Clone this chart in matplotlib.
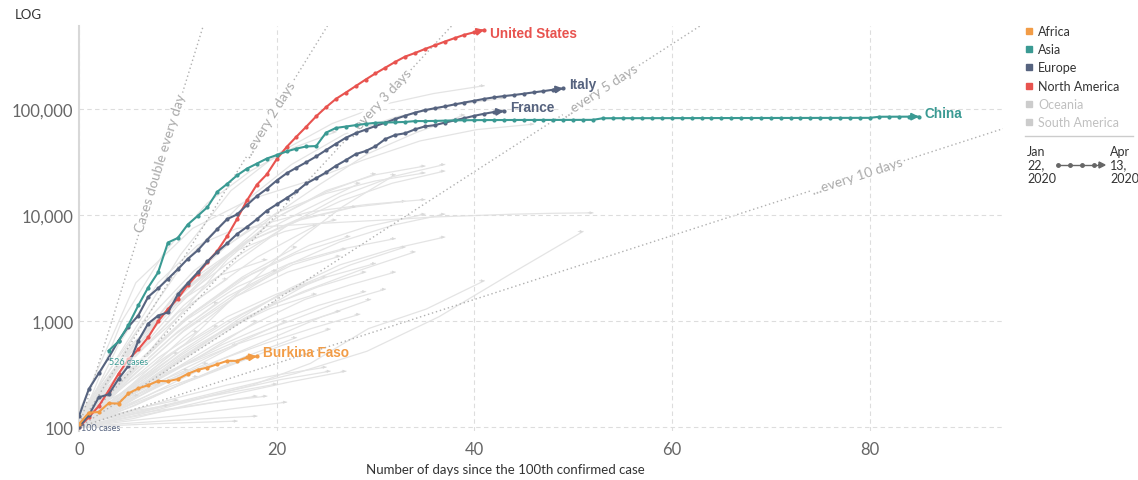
import numpy as np
import matplotlib
matplotlib.use('Agg')
import matplotlib.pyplot as plt
from matplotlib.patches import Rectangle, FancyArrow
from matplotlib.lines import Line2D
from matplotlib.ticker import NullLocator

plt.rcParams['font.family'] = ['Lato', 'DejaVu Sans']

# cumulative confirmed cases, one value per day since the 100th case
us_cases = [100, 124, 158, 221, 319, 435, 541, 704, 994, 1301, 1630, 2183, 2770, 3613,
             4596, 6344, 9197, 13779, 19367, 24192, 33592, 43781, 54856, 68211, 85435,
             104126, 124665, 143025, 164620, 189618, 216721, 245573, 278458, 312237,
             337635, 368196, 398809, 432132, 466299, 501560, 529951, 557571]
italy_cases = [127, 229, 322, 453, 655, 888, 1128, 1694, 2036, 2502, 3089, 3858, 4636,
               5883, 7375, 9172, 10149, 12462, 15113, 17660, 21157, 24747, 27980, 31506,
               35713, 41035, 47021, 53578, 59138, 63927, 69176, 74386, 80589, 86498, 92472,
               97689, 101739, 105792, 110574, 115242, 119827, 124632, 128948, 132547,
               135586, 139422, 143626, 147577, 152271, 156363]
france_cases = [100, 130, 191, 204, 285, 377, 653, 949, 1126, 1209, 1784, 2281, 2876,
                3661, 4499, 5423, 6633, 7730, 9134, 10995, 12612, 14459, 16689, 19856,
                22304, 25233, 29155, 32964, 37575, 40174, 44550, 52128, 56989, 59105,
                64338, 68605, 70478, 74390, 78167, 82048, 86334, 90276, 93790, 95403]
burkina_cases = [107, 137, 139, 168, 167, 208, 232, 249, 273, 271, 284, 318, 347, 365,
                 393, 422, 422, 454, 465]
# China's series starts on Jan 22 with 526 cases, already 3 days past its 100th case
china_start = 3
china_cases = [526, 643, 920, 1406, 2075, 2877, 5509, 6087, 8141, 9802, 11891, 16630,
               19716, 23707, 27440, 30587, 34110, 36814, 39829, 42354, 44386, 44759,
               59895, 66358, 68413, 70513, 72434, 74211, 74619, 75077, 75550, 77001,
               77022, 77241, 77754, 78166, 78400, 78600, 78700, 78750, 78800, 78850,
               78900, 78900, 78950, 78950, 79000, 79000, 79050, 79100, 81900, 81950,
               82000, 82000, 82050, 82050, 82100, 82100, 82150, 82150, 82200, 82200,
               82250, 82250, 82300, 82300, 82350, 82350, 82400, 82400, 82450, 82450,
               82500, 82500, 82550, 82550, 82600, 82600, 84600, 84650, 84700, 84750,
               84800]

# every other country in grey: (last day, cases at evenly spaced days from 0 to last day)
other_countries = [
    (41, [120, 700, 4200, 17000, 40000, 73000, 110000, 140000, 166000]),
    (43, [130, 700, 3700, 12000, 30000, 58000, 85000, 108000, 127000]),
    (46, [140, 2300, 7500, 14000, 20600, 33000, 50000, 64000, 72000]),
    (39, [115, 460, 1400, 3900, 9600, 19500, 38000, 60000, 88000]),
    (26, [100, 1000, 4500, 13000, 26000, 43000, 61000]),
    (37, [100, 420, 1400, 3600, 8100, 15000, 23000, 30000]),
    (37, [120, 600, 1700, 4000, 8000, 13500, 20000, 26000]),
    (35, [100, 300, 1100, 3800, 9500, 17000, 24000, 29000]),
    (35, [110, 500, 1900, 5200, 10500, 16000, 21000, 25000]),
    (30, [100, 400, 1400, 4000, 9500, 16500, 24500]),
    (32, [100, 250, 600, 1800, 5000, 12000, 24000]),
    (28.4, [120, 620, 2200, 5800, 11000, 20000]),
    (33, [110, 600, 2300, 5300, 9000, 11800, 13500]),
    (35, [100, 800, 3000, 7700, 10700, 12600, 14000]),
    (35, [120, 400, 1200, 2800, 5200, 7800, 10200]),
    (37, [100, 250, 700, 1700, 3400, 5600, 8000, 10200]),
    (52, [104, 600, 2300, 5200, 7500, 7900, 8300, 8700, 9100, 9600, 9900, 10200, 10400, 10500]),
    (51, [105, 150, 220, 320, 520, 1100, 2800, 7000]),
    (41, [100, 130, 180, 250, 400, 850, 1300, 2400]),
    (37, [100, 200, 450, 1000, 2000, 3400, 4800, 6200]),
    (32, [100, 350, 1000, 2100, 3500, 4800, 6000]),
    (27.4, [100, 380, 1100, 2500, 4300, 6300]),
    (26.4, [100, 300, 800, 1700, 2900, 4100]),
    (34, [110, 250, 550, 1100, 1900, 3000, 4500]),
    (29, [100, 200, 420, 800, 1400, 2100, 2900]),
    (32, [100, 180, 330, 600, 1000, 1600, 2200, 2900]),
    (29, [100, 190, 350, 600, 950, 1400, 1900]),
    (31, [130, 230, 380, 620, 950, 1450, 2000]),
    (29.5, [100, 160, 270, 450, 700, 1100, 1600]),
    (28.4, [100, 170, 280, 430, 620, 860, 1160]),
    (26.4, [110, 220, 380, 600, 880, 1240]),
    (25.4, [100, 160, 250, 380, 580, 840]),
    (25.4, [100, 130, 170, 220, 280, 337]),
    (27, [100, 120, 160, 210, 270, 337]),
    (25, [105, 140, 190, 250, 310, 368]),
    (20, [100, 130, 170, 210, 255]),
    (18, [100, 120, 145, 170, 196]),
    (19, [110, 130, 150, 175, 196]),
    (21, [100, 115, 130, 150, 172]),
    (18, [100, 108, 115, 121, 127]),
    (16, [100, 104, 108, 111, 114]),
    (10, [100, 180, 300, 500]),
    (12, [100, 220, 450, 800]),
    (14, [100, 280, 700, 1500]),
    (15, [110, 400, 1200, 2500]),
    (12, [100, 150, 220, 300]),
    (8, [100, 150, 250]),
    (10, [100, 130, 155, 180]),
    (20, [100, 300, 800, 1700, 3000]),
    (22, [100, 350, 1100, 2600, 5000]),
    (24, [120, 500, 1600, 4000, 8000]),
    (18, [100, 220, 450, 1000]),
    (16, [100, 180, 330, 600]),
    (20, [100, 200, 420, 850, 1500]),
    (23, [100, 220, 500, 1100, 2200]),
    (22, [100, 160, 270, 450, 700]),
    (13, [100, 170, 270, 400]),
    (17, [100, 160, 280, 450]),
    (24, [100, 200, 400, 800, 1300, 1800]),
    (21, [100, 190, 350, 600, 1000]),
    (19, [130, 500, 1400, 2700, 3800]),
    (26, [110, 500, 1800, 4500, 7000, 9000]),
    (28, [100, 600, 2200, 5500, 9000, 12000]),
    (14, [100, 250, 500, 900]),
    (11, [100, 170, 250, 350]),
    (25, [100, 230, 550, 1100, 1800, 2600]),
    (27, [100, 300, 850, 1900, 3400, 4800]),
    (9, [100, 125, 145, 160]),
    (6, [100, 145, 200]),
    (30, [100, 220, 500, 1000, 1700, 2600, 3500]),
    (33, [100, 230, 550, 1150, 2100, 3400, 5000]),
]

doubling_days = [1, 2, 3, 5, 10]
doubling_labels = ['Cases double every day', '...every 2 days', '...every 3 days',
                   '...every 5 days', '...every 10 days']
doubling_label_day = [8.3, 19.3, 30.5, 52.7, 78.8]

legend_names = ['Africa', 'Asia', 'Europe', 'North America', 'Oceania', 'South America']
legend_colors = ['#f29c46', '#3a9a93', '#56637f', '#e8534f', '#cccccc', '#cccccc']

c_africa, c_asia, c_europe, c_namerica = legend_colors[:4]
grey = '#e4e4e4'

W, H = 1138, 481
fig = plt.figure(figsize=(W / 100, H / 100), dpi=100)
ax = fig.add_axes([79 / W, 1 - 432 / H, (1003 - 79) / W, (432 - 27) / H])
ax.set_yscale('log')
xmax, ymax = 93.5, 607000
ax.set_xlim(0, xmax)
ax.set_ylim(92, ymax)

ax.set_yticks([100, 1000, 10000, 100000])
ax.set_yticklabels(['100', '1,000', '10,000', '100,000'])
ax.yaxis.set_minor_locator(NullLocator())
ax.set_xticks([0, 20, 40, 60, 80])
ax.tick_params(length=0, labelsize=12, labelcolor='#666666')
ax.tick_params(axis='y', pad=4)
ax.tick_params(axis='x', pad=7)
ax.grid(True, ls=(0, (4, 3)), color='#dddddd', lw=0.8, zorder=0)
for s in ['top', 'right', 'bottom']:
    ax.spines[s].set_visible(False)
ax.spines['left'].set_color('#d8d8d8')
ax.spines['left'].set_linewidth(1.5)

# grey countries
for end, vals in other_countries:
    d = np.linspace(0, end, len(vals))
    ax.plot(d, vals, color=grey, lw=0.9, zorder=1)
    ax.annotate('', xy=(d[-1], vals[-1]), xytext=(d[-1] - 0.5, vals[-1]),
                arrowprops=dict(arrowstyle='-|>', color='#dadada', lw=0.5,
                                mutation_scale=4, shrinkA=0, shrinkB=0), zorder=1)

# doubling guides
for dd, lab, ld in zip(doubling_days, doubling_labels, doubling_label_day):
    xe = min(xmax, dd * np.log2(ymax / 100))
    ax.plot([0, xe], [100, 100 * 2 ** (xe / dd)], ls=(0, (1, 2)), color='#b0b0b0',
            lw=1, zorder=1.5)
    p1 = ax.transData.transform((0, 100))
    p2 = ax.transData.transform((xe, 100 * 2 ** (xe / dd)))
    ang = np.degrees(np.arctan2(p2[1] - p1[1], p2[0] - p1[0]))
    ax.text(ld, 100 * 2 ** (ld / dd), lab, rotation=ang, rotation_mode='anchor',
            ha='center', va='center', fontsize=10, color='#aaaaaa', zorder=1.6,
            bbox=dict(fc='white', ec='none', pad=0.5))

# highlighted countries
series = [
    (us_cases, 0, c_namerica, 'United States', -3),
    (italy_cases, 0, c_europe, 'Italy', 4),
    (france_cases, 0, c_europe, 'France', 4),
    (china_cases, china_start, c_asia, 'China', 4),
    (burkina_cases, 0, c_africa, 'Burkina Faso', 4),
]
for vals, start, col, name, dy in series:
    d = np.arange(len(vals)) + start
    ax.plot(d, vals, color=col, lw=1.5, marker='o', ms=2, zorder=3)
    ax.annotate('', xy=(d[-1], vals[-1]), xytext=(d[-2], vals[-2]),
                arrowprops=dict(arrowstyle='-|>', color=col, lw=1.5,
                                mutation_scale=10, shrinkA=0, shrinkB=0), zorder=4)
    ax.annotate(name, xy=(d[-1], vals[-1]), xytext=(6, dy), textcoords='offset pixels',
                ha='left', va='center', fontsize=9.8, fontweight='bold', color=col,
                family=['Liberation Sans', 'DejaVu Sans'], zorder=5)

ax.annotate('526 cases', xy=(china_start, china_cases[0]), xytext=(0, -11),
            textcoords='offset pixels', fontsize=6.5, color=c_asia, va='center', zorder=5,
            bbox=dict(fc='white', ec='none', pad=0, alpha=0.6))
ax.annotate('100 cases', xy=(0, 100), xytext=(2, 0), textcoords='offset pixels',
            fontsize=6.5, color=c_europe, va='center', zorder=5)

fig.text(15 / W, 1 - 15 / H, 'LOG', fontsize=9.5, color='#333333', va='center')
fig.text(505 / W, 1 - 470 / H, 'Number of days since the 100th confirmed case',
         fontsize=9.5, color='#333333', ha='center', va='center')

# legend on the right
rows = [32, 50, 68, 87, 105, 123]
for name, col, yy in zip(legend_names, legend_colors, rows):
    fig.patches.append(Rectangle((1026 / W, 1 - (yy + 3) / H), 6 / W, 6 / H,
                                 transform=fig.transFigure, color=col))
    tc = '#333333' if col != '#cccccc' else '#c0c0c0'
    fig.text(1038 / W, 1 - yy / H, name, fontsize=9, color=tc, va='center')

fig.add_artist(Line2D([1025 / W, 1133 / W], [1 - 137 / H, 1 - 137 / H],
                      color='#cccccc', lw=1))
fig.text(1027 / W, 1 - 146 / H, 'Jan\n22,\n2020', fontsize=9, color='#333333',
         va='top', linespacing=1.15)
fig.text(1110 / W, 1 - 146 / H, 'Apr\n13,\n2020', fontsize=9, color='#333333',
         va='top', linespacing=1.15)
fig.add_artist(Line2D([1058 / W, 1100 / W], [1 - 166 / H] * 2, color='#666666', lw=1))
for px in [1058, 1070, 1082, 1094]:
    fig.add_artist(Line2D([px / W], [1 - 166 / H], color='#666666', marker='o', ms=2.5))
fig.patches.append(FancyArrow(1098 / W, 1 - 166 / H, 7 / W, 0, width=0,
                              head_width=6 / H, head_length=6 / W,
                              length_includes_head=True, transform=fig.transFigure,
                              color='#666666'))

fig.savefig('out.png', dpi=100)
